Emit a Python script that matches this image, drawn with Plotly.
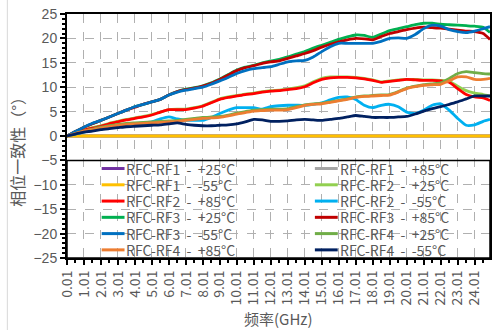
import plotly.graph_objects as go

# Frequency points (GHz)
freq_ghz = [0.01, 0.5, 1.0, 1.5, 2.0, 2.5, 3.0, 3.5, 4.0, 4.5, 5.0, 5.5, 6.0, 6.5, 7.0, 7.5,
            8.0, 8.5, 9.0, 9.5, 10.0, 10.5, 11.0, 11.5, 12.0, 12.5, 13.0, 13.5, 14.0, 14.5,
            15.0, 15.5, 16.0, 16.5, 17.0, 17.5, 18.0, 18.5, 19.0, 19.5, 20.0, 20.5, 21.0,
            21.5, 22.0, 22.5, 23.0, 23.5, 24.0, 24.5, 24.9]

# Phase consistency (deg) relative to RFC-RF1
rf1_p25 = [0, 0, 0, 0, 0, 0, 0, 0, 0, 0, 0, 0, 0, 0, 0, 0, 0, 0, 0, 0, 0, 0, 0, 0, 0, 0,
           0, 0, 0, 0, 0, 0, 0, 0, 0, 0, 0, 0, 0, 0, 0, 0, 0, 0, 0, 0, 0, 0, 0, 0, 0]
rf1_p85 = [0, 0, 0, 0, 0, 0, 0, 0, 0, 0, 0, 0, 0, 0, 0, 0, 0, 0, 0, 0, 0, 0, 0, 0, 0, 0,
           0, 0, 0, 0, 0, 0, 0, 0, 0, 0, 0, 0, 0, 0, 0, 0, 0, 0, 0, 0, 0, 0, 0, 0, 0]
rf1_m55 = [0, 0, 0, 0, 0, 0, 0, 0, 0, 0, 0, 0, 0, 0, 0, 0, 0, 0, 0, 0, 0, 0, 0, 0, 0, 0,
           0, 0, 0, 0, 0, 0, 0, 0, 0, 0, 0, 0, 0, 0, 0, 0, 0, 0, 0, 0, 0, 0, 0, 0, 0]
rf2_p25 = [0, 0.6, 1.2, 1.7, 2.1, 2.6, 3.0, 3.4, 3.7, 4.0, 4.4, 4.9, 5.4, 5.5, 5.5, 5.8, 6.2,
           6.9, 7.6, 8.0, 8.3, 8.6, 8.8, 9.1, 9.3, 9.4, 9.6, 9.9, 10.3, 11.1, 11.8, 12.1,
           12.1, 12.1, 12.0, 11.8, 11.5, 11.1, 11.3, 11.5, 11.6, 11.6, 11.5, 11.5, 11.4,
           11.2, 10.2, 9.3, 8.8, 8.5, 8.2]
rf2_p85 = [0, 0.6, 1.2, 1.6, 2.0, 2.5, 2.9, 3.3, 3.6, 3.9, 4.3, 4.9, 5.4, 5.4, 5.4, 5.7, 6.1,
           6.8, 7.5, 7.9, 8.2, 8.5, 8.7, 9.0, 9.2, 9.3, 9.5, 9.7, 10.1, 10.9, 11.6, 11.9,
           12.0, 12.0, 11.9, 11.7, 11.4, 11.0, 11.2, 11.4, 11.6, 11.5, 11.4, 11.4, 11.3,
           11.0, 9.7, 8.5, 8.0, 7.8, 7.3]
rf2_m55 = [0, 0.4, 0.8, 1.2, 1.5, 1.9, 2.2, 2.4, 2.5, 2.7, 2.9, 3.5, 3.9, 3.5, 3.2, 3.2, 3.2,
           3.8, 4.6, 5.3, 5.8, 5.8, 5.8, 5.5, 6.0, 6.2, 6.3, 6.3, 6.3, 6.5, 6.8, 7.4, 7.9,
           8.0, 7.5, 6.3, 5.8, 6.3, 6.5, 6.0, 4.9, 4.6, 5.3, 6.3, 6.6, 5.3, 3.6, 2.2, 2.3,
           3.0, 3.4]
rf3_p25 = [0, 0.9, 1.8, 2.5, 3.2, 3.9, 4.6, 5.3, 6.0, 6.5, 7.0, 7.5, 8.4, 9.1, 9.6, 9.9, 10.3,
           10.9, 11.7, 12.6, 13.5, 14.1, 14.5, 15.0, 15.4, 15.7, 16.2, 16.8, 17.3, 18.0,
           18.6, 19.2, 19.8, 20.3, 20.7, 20.6, 20.2, 20.9, 21.6, 22.0, 22.4, 22.8, 23.1,
           23.1, 22.9, 22.8, 22.7, 22.6, 22.5, 22.3, 21.2]
rf3_p85 = [0, 0.9, 1.8, 2.5, 3.2, 3.9, 4.6, 5.3, 5.9, 6.5, 7.0, 7.5, 8.4, 9.1, 9.5, 9.8, 10.2,
           10.8, 11.6, 12.5, 13.4, 14.0, 14.4, 14.9, 15.2, 15.4, 15.9, 16.4, 16.9, 17.5,
           18.2, 18.8, 19.3, 19.7, 20.0, 19.9, 19.7, 20.4, 21.0, 21.4, 21.8, 22.1, 22.3,
           22.2, 22.1, 21.9, 21.7, 21.5, 21.4, 21.0, 19.8]
rf3_m55 = [0, 0.9, 1.8, 2.6, 3.2, 3.9, 4.6, 5.3, 6.0, 6.5, 7.0, 7.5, 8.4, 9.0, 9.4, 9.7, 10.0,
           10.6, 11.3, 12.0, 12.8, 13.4, 13.8, 14.0, 14.2, 14.7, 15.2, 15.4, 15.5, 16.2,
           17.3, 18.3, 19.0, 19.0, 19.0, 19.0, 19.0, 19.4, 20.0, 20.1, 20.0, 20.8, 22.0,
           22.7, 22.5, 21.8, 21.4, 21.2, 21.5, 22.0, 22.4]
rf4_p25 = [0, 0.5, 1.0, 1.4, 1.8, 2.1, 2.4, 2.6, 2.7, 2.8, 2.9, 3.0, 3.1, 3.2, 3.4, 3.6, 3.8,
           3.9, 4.0, 4.3, 4.7, 5.0, 5.3, 5.4, 5.5, 5.5, 5.6, 6.0, 6.4, 6.6, 6.7, 7.0, 7.3,
           7.6, 8.0, 8.2, 8.3, 8.4, 8.5, 9.1, 9.8, 10.2, 10.5, 10.7, 10.9, 11.8, 12.8, 13.2,
           13.0, 12.8, 12.7]
rf4_p85 = [0, 0.5, 1.0, 1.3, 1.6, 1.9, 2.2, 2.4, 2.5, 2.6, 2.7, 2.8, 2.9, 3.0, 3.2, 3.4, 3.6,
           3.7, 3.8, 4.1, 4.5, 4.8, 5.1, 5.2, 5.3, 5.3, 5.4, 5.8, 6.3, 6.5, 6.6, 6.9, 7.2,
           7.5, 7.9, 8.1, 8.2, 8.3, 8.4, 9.0, 9.7, 10.1, 10.4, 10.5, 10.6, 11.3, 12.1, 12.1,
           11.6, 11.6, 11.8]
rf4_m55 = [0, 0.4, 0.8, 1.0, 1.3, 1.5, 1.7, 1.9, 2.0, 2.1, 2.2, 2.3, 2.5, 2.7, 2.4, 2.2, 2.1,
           2.1, 2.2, 2.3, 2.5, 2.9, 3.4, 3.3, 3.0, 3.0, 3.1, 3.3, 3.4, 3.3, 3.2, 3.4, 3.6,
           3.9, 4.2, 4.0, 3.8, 3.8, 3.8, 3.9, 4.0, 4.5, 5.1, 5.6, 6.0, 6.5, 7.0, 7.6, 8.2,
           8.2, 8.2]

series_names = ["RFC-RF1 - +25°C", "RFC-RF1 - +85°C", "RFC-RF1 - -55°C",
                "RFC-RF2 - +25°C", "RFC-RF2 - +85°C", "RFC-RF2 - -55°C",
                "RFC-RF3 - +25°C", "RFC-RF3 - +85°C", "RFC-RF3 - -55°C",
                "RFC-RF4 - +25°C", "RFC-RF4 - +85°C", "RFC-RF4 - -55°C"]
series_values = [rf1_p25, rf1_p85, rf1_m55, rf2_p25, rf2_p85, rf2_m55,
                 rf3_p25, rf3_p85, rf3_m55, rf4_p25, rf4_p85, rf4_m55]
series_colors = ["#7030a0", "#a5a5a5", "#ffc000", "#92d050", "#ff0000", "#00b0f0",
                 "#00b050", "#c00000", "#0070c0", "#70ad47", "#ed7d31", "#002060"]

y_ticks = [-25, -20, -15, -10, -5, 0, 5, 10, 15, 20, 25]

TEXT = "#595959"
CJK = "Noto Sans CJK SC"

fig = go.Figure()
for name, vals, col in zip(series_names, series_values, series_colors):
    fig.add_trace(go.Scatter(x=freq_ghz, y=vals, name=name, mode="lines",
                             line=dict(color=col, width=2.8, shape="spline", smoothing=0.5),
                             showlegend=False))

# Legend drawn inside the lower band of the plot (two columns, six rows)
shapes = [
    dict(type="rect", xref="paper", yref="y", x0=0, x1=1, y0=-25, y1=-5,
         line=dict(color="#000000", width=1.5), layer="above"),
    dict(type="line", xref="paper", yref="paper", x0=-0.141, x1=-0.141, y0=-0.3, y1=1.06,
         line=dict(color="#d9d9d9", width=1)),
]
annotations = []
col_x = [0.082, 0.586]
NB = "\u00a0"
for i, (name, col) in enumerate(zip(series_names, series_colors)):
    r, c = divmod(i, 2)
    yv = -5 - 20 / 6 * (r + 0.5)
    x0 = col_x[c]
    shapes.append(dict(type="line", xref="paper", yref="y", x0=x0, x1=x0 + 0.054,
                       y0=yv, y1=yv, line=dict(color=col, width=3)))
    label = name.replace(" - ", NB * 2 + "-" + NB * 2)
    annotations.append(dict(xref="paper", yref="y", x=x0 + 0.056, y=yv, text=label,
                            showarrow=False, xanchor="left", yanchor="middle",
                            height=16, borderpad=0,
                            font=dict(family=CJK, size=14, color=TEXT)))

# Axis titles
annotations.append(dict(xref="paper", yref="paper", x=-0.118, y=0.452, text="相位一致性（°）",
                        textangle=-90, showarrow=False, xanchor="center", yanchor="middle",
                        font=dict(family=CJK, size=16, color=TEXT)))
annotations.append(dict(xref="paper", yref="paper", x=0.5, y=-0.248, text="频率(GHz)",
                        showarrow=False, xanchor="center", yanchor="middle",
                        font=dict(family=CJK, size=15, color=TEXT)))

fig.update_layout(
    width=494, height=330,
    margin=dict(l=67, r=2, t=14, b=72),
    paper_bgcolor="white", plot_bgcolor="white",
    shapes=shapes, annotations=annotations,
    showlegend=False,
)
fig.update_xaxes(
    range=[0.01, 24.9], tick0=0.01, dtick=1, tickformat=".2f", tickangle=-90,
    showgrid=True, gridcolor="#b0b0b0", griddash="dash", gridwidth=1,
    showline=True, linecolor="#000000", linewidth=2, mirror=True,
    ticks="outside", ticklen=5, tickcolor="#000000", tickwidth=1.5,
    minor=dict(dtick=0.5, ticks="outside", ticklen=3, tickcolor="#000000", showgrid=False),
    tickfont=dict(family=CJK, size=14, color=TEXT), zeroline=False,
)
fig.update_yaxes(
    range=[-25, 25], tickvals=y_ticks,
    showgrid=True, gridcolor="#b0b0b0", griddash="dash", gridwidth=1,
    showline=True, linecolor="#000000", linewidth=2, mirror=True,
    ticks="outside", ticklen=5, tickcolor="#000000", tickwidth=1.5,
    minor=dict(dtick=1, ticks="outside", ticklen=3, tickcolor="#000000", showgrid=False),
    tickfont=dict(family="Liberation Sans", size=14, color=TEXT), zeroline=False,
)

fig.write_html("out.html")
